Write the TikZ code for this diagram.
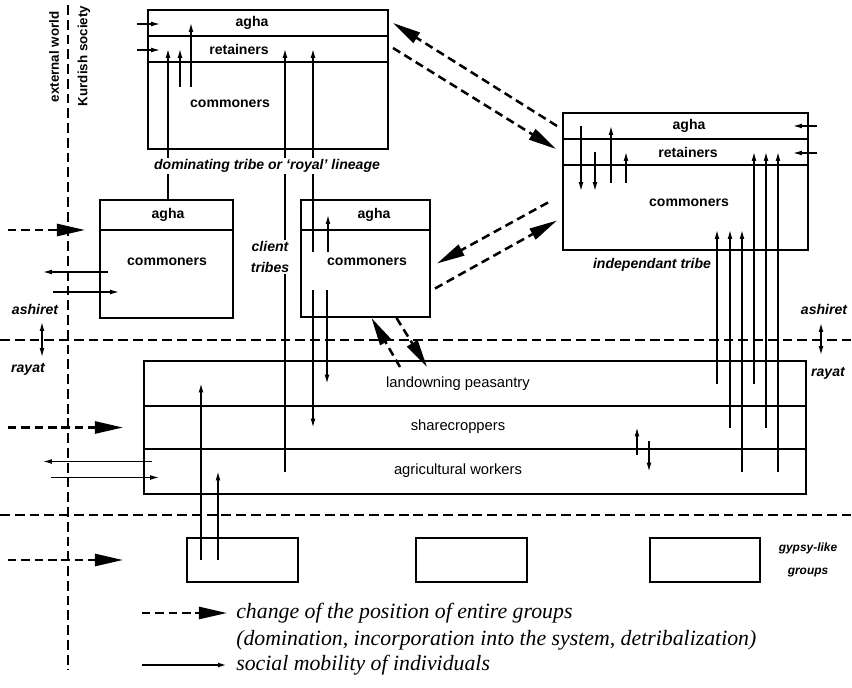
\documentclass[tikz,border=0pt]{standalone}
\usepackage{fontspec}
\setmainfont{Liberation Sans}
\newfontfamily\legendfont{Liberation Serif}
\usetikzlibrary{arrows.meta}
\usetikzlibrary{calc}
\usetikzlibrary{positioning}
\tikzset{x = 0.025cm, y = -0.025cm}
\tikzset{
  layer/.style = {draw, line width = 1.3pt, anchor = north west, inner sep = 0pt, outer sep = 0pt},
  sz/.style 2 args = {minimum width = #1*0.025cm, minimum height = #2*0.025cm},
  lbl/.style = {font = \fontsize{10}{12}\selectfont\bfseries, inner sep = 1pt},
  peas/.style = {font = \fontsize{10.5}{12}\selectfont, inner sep = 1pt},
  side/.style = {font = \fontsize{9.5}{11}\selectfont\bfseries, inner sep = 1pt},
  note/.style = {font = \fontsize{10}{15}\selectfont\bfseries\itshape, inner sep = 1pt, fill = white, align = center},
  legendtxt/.style = {font = \legendfont\itshape\fontsize{15.5}{18}\selectfont, inner sep = 0pt, anchor = west},
  mob/.style = {-{Latex[length = 2.2mm, width = 1.2mm]}, line width = 0.9pt},
  groupmove/.style = {-{Triangle[length = 7mm, width = 3mm]}, line width = 1.8pt, dash pattern = on 6pt off 3.5pt},
  frontier/.style = {line width = 1.4pt, dash pattern = on 7pt off 3.5pt}
}

\begin{document}
\begin{tikzpicture}
  \useasboundingbox (0,0) rectangle (852,688);
  % frontiers
  \coordinate (ext-n) at (68,5);
  \coordinate (ext-s) at (68,670);
  \coordinate (ash-w) at (0,340);
  \coordinate (ash-e) at (852,340);
  \coordinate (gyp-w) at (0,515);
  \coordinate (gyp-e) at (852,515);
  \draw [frontier] (ext-n) -- (ext-s);
  \draw [frontier] (ash-w) -- (ash-e);
  \draw [frontier] (gyp-w) -- (gyp-e);
  \node [side, rotate = 90] (ext) at (54,57) {external world};
  \node [side, rotate = 90] (kurd) at (84,56) {Kurdish society};
  % dominating tribe
  \node [layer, sz = {240}{26}] (dagha) at (148,10) {};
  \node [layer, sz = {240}{26}, below = 0pt of dagha] (dret) {};
  \node [layer, sz = {240}{87}, below = 0pt of dret] (dcom) {};
  % independant tribe
  \node [layer, sz = {245}{26}] (iagha) at (563,113) {};
  \node [layer, sz = {245}{26}, below = 0pt of iagha] (iret) {};
  \node [layer, sz = {245}{85}, below = 0pt of iret] (icom) {};
  % client tribes
  \node [layer, sz = {133}{30}] (c1agha) at (100,200) {};
  \node [layer, sz = {133}{88}, below = 0pt of c1agha] (c1com) {};
  \node [layer, sz = {129}{30}] (c2agha) at (301,200) {};
  \node [layer, sz = {129}{87}, below = 0pt of c2agha] (c2com) {};
  % rayat
  \node [layer, sz = {662}{45}] (land) at (144,361) {};
  \node [layer, sz = {662}{43}, below = 0pt of land] (share) {};
  \node [layer, sz = {662}{45}, below = 0pt of share] (agri) {};
  % gypsy-like groups
  \node [layer, sz = {111}{44}] (gyp1) at (187,538) {};
  \node [layer, sz = {111}{44}] (gyp2) at (416,538) {};
  \node [layer, sz = {110}{44}] (gyp3) at (650,538) {};
  % layer names
  \node [lbl] (dagha-t) at (252,23) {agha};
  \node [lbl] (dret-t) at (239,49) {retainers};
  \node [lbl] (dcom-t) at (230,104) {commoners};
  \node [lbl] (iagha-t) at (689,126) {agha};
  \node [lbl] (iret-t) at (688,152) {retainers};
  \node [lbl] (icom-t) at (689,203) {commoners};
  \node [lbl] (c1agha-t) at (168,215) {agha};
  \node [lbl] (c1com-t) at (167,262) {commoners};
  \node [lbl] (c2agha-t) at (374,215) {agha};
  \node [lbl] (c2com-t) at (367,262) {commoners};
  \node [peas] (land-t) at (458,384) {landowning peasantry};
  \node [peas] (share-t) at (458,427) {sharecroppers};
  \node [peas] (agri-t) at (458,471) {agricultural workers};
  % social mobility
  \draw [mob] ($(dagha.west)+(-11,1)$) -- ($(dagha.west)+(12,1)$);
  \draw [mob] ($(dret.west)+(-11,1)$) -- ($(dret.west)+(12,1)$);
  \draw [mob] (168,0 |- c1agha.north) -- (168,0 |- dret);
  \draw [mob] (180,87) -- (180,0 |- dret);
  \draw [mob] (191,87) -- (191,0 |- dagha);
  \draw [mob] (285,0 |- agri) -- (285,0 |- dret);
  \draw [mob] (313,252) -- (313,0 |- dret);
  \draw [mob] (328,252) -- (328,0 |- c2agha);
  \draw [mob] (313,290) -- (313,0 |- share);
  \draw [mob] (327,290) -- (327,0 |- land);
  \draw [mob] ($(c1com.west)+(8,-2)$) -- ($(c1com.west)+(-57,-2)$);
  \draw [mob] ($(c1com.west)+(-47,18)$) -- ($(c1com.west)+(19,18)$);
  \draw [mob] ($(agri.west)+(8,-10)$) -- ($(agri.west)+(-101,-10)$);
  \draw [mob] ($(agri.west)+(-93,6)$) -- ($(agri.west)+(15,6)$);
  \draw [mob] (201,0 |- gyp1) -- (201,0 |- land);
  \draw [mob] (218,0 |- gyp1) -- (218,0 |- agri);
  \draw [mob] ($(iagha.east)+(9,0)$) -- ($(iagha.east)+(-15,0)$);
  \draw [mob] ($(iret.east)+(9,1)$) -- ($(iret.east)+(-15,1)$);
  \draw [mob] (581,0 |- iagha) -- (581,191);
  \draw [mob] (595,0 |- iret) -- (595,191);
  \draw [mob] (611,183) -- (611,0 |- iagha);
  \draw [mob] (626,183) -- (626,0 |- iret);
  \foreach \x/\lvl in {717/land, 730/share, 742/agri}
    \draw [mob] (\x,0 |- \lvl) -- (\x,230);
  \foreach \x/\lvl in {754/land, 766/share, 778/agri}
    \draw [mob] (\x,0 |- \lvl) -- (\x,0 |- iret);
  \draw [mob] (637,455) -- (637,0 |- share);
  \draw [mob] (649,441) -- (649,0 |- agri);
  \draw [mob] (42,0 |- ash-w) -- (42,322);
  \draw [mob] (42,0 |- ash-w) -- (42,357);
  \draw [mob] (821,0 |- ash-e) -- (821,323);
  \draw [mob] (821,0 |- ash-e) -- (821,355);
  % change of position of groups
  \draw [groupmove] ($(iagha.west)+(-6,0)$) -- ($(dagha.east)+(5,0)$);
  \draw [groupmove] ($(dret.east)+(5,-1)$) -- ($(iret.west)+(-7,-3)$);
  \draw [groupmove] ($(icom.west)+(-15,-5)$) -- ($(c2com.east)+(7,-10)$);
  \draw [groupmove] ($(c2com.east)+(5,15)$) -- ($(icom.west)+(-6,13)$);
  \draw [groupmove] ($(land.north)+(-75,6)$) -- ($(c2com.south)+(6,1)$);
  \draw [groupmove] ($(c2com.south)+(31,1)$) -- ($(land.north)+(-48,6)$);
  \draw [groupmove] (8,0 |- c1agha.south) -- (85,0 |- c1agha.south);
  \draw [groupmove] (8,0 |- share) -- (123,0 |- share);
  \draw [groupmove] (8,0 |- gyp1) -- (123,0 |- gyp1);
  % notes
  \node [note] (dom-n) at (267,166) {dominating tribe or `royal' lineage};
  \node [note] (cli-n) at (270,257) {client\\tribes};
  \node [note] (ind-n) at (652,265) {independant tribe};
  \node [note, font = \fontsize{8.5}{16}\selectfont\bfseries\itshape] (gyp-n) at (808,560) {gypsy-like\\groups};
  \node [note] (ash-l) at (35,309) {ashiret};
  \node [note] (ray-l) at (28,369) {rayat};
  \node [note] (ash-r) at (824,309) {ashiret};
  \node [note] (ray-r) at (828,373) {rayat};
  % legend
  \coordinate (lg-a) at (142,613);
  \coordinate (lg-b) at (227,613);
  \coordinate (lg-c) at (142,665);
  \coordinate (lg-d) at (227,665);
  \draw [groupmove] (lg-a) -- (lg-b);
  \draw [mob, line width = 1.4pt] (lg-c) -- (lg-d);
  \node [legendtxt] (lg-1) at (236,613) {change of the position of entire groups};
  \node [legendtxt] (lg-2) at (236,640) {(domination, incorporation into the system, detribalization)};
  \node [legendtxt] (lg-3) at (236,665) {social mobility of individuals};
\end{tikzpicture}
\end{document}
